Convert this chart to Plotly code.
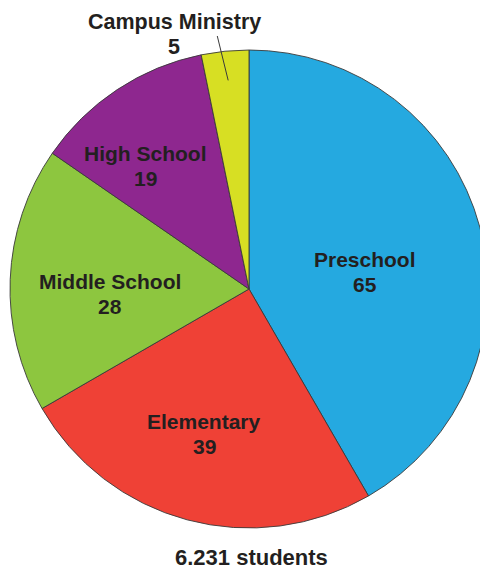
import math
import plotly.graph_objects as go

# ---- data ----
labels = ["Preschool", "Elementary", "Middle School", "High School", "Campus Ministry"]
values = [65, 39, 28, 19, 5]
total_label = "6.231 students"

# ---- style ----
colors = ["#25A9E0", "#EF4136", "#8DC63F", "#8E278F", "#D7DF23"]
text_color = "#231F20"
font_family = "Liberation Sans, Arial, sans-serif"
OFF = 8                      # browser body margin
W, H = 488 - OFF, 569 - OFF  # figure size so that it fits the window
# pie centre / radius in page pixels
pcx, pcy, R = 250, 289, 240
cx, cy = pcx - OFF, pcy - OFF
# label placement (fraction of radius, angle nudge in degrees) per slice
label_rfrac = [0.486, 0.635, 0.585, 0.675, 1.108]
label_shift = [6.7, 2.5, -4.3, -6.9, -10.8]
label_size = [21, 21, 21, 21, 21.5]
line_gap = 25  # px between name and value lines

fig = go.Figure(go.Pie(
    labels=labels,
    values=values,
    sort=False,
    direction="clockwise",
    rotation=0,
    textinfo="none",
    hoverinfo="label+value",
    marker=dict(colors=colors, line=dict(color="#3a3a3a", width=0.9)),
    domain=dict(x=[max(0.0, (cx - R) / W), min(1.0, (cx + R) / W)],
                y=[1 - (cy + R) / H, 1 - (cy - R) / H]),
    showlegend=False,
))


def polar(angle_deg, rfrac):
    a = math.radians(angle_deg)
    return cx + rfrac * R * math.sin(a), cy - rfrac * R * math.cos(a)


def add_text(px, py, txt, size):
    fig.add_annotation(
        x=px / W, y=1 - py / H, xref="paper", yref="paper",
        text=f"<b>{txt}</b>", showarrow=False,
        xanchor="center", yanchor="middle",
        font=dict(family=font_family, size=size, color=text_color),
    )


tot = sum(values)
cum = 0
for i, (lab, v) in enumerate(zip(labels, values)):
    mid = (cum + v / 2) / tot * 360
    cum += v
    px, py = polar(mid + label_shift[i], label_rfrac[i])
    add_text(px, py - line_gap / 2, lab, label_size[i])
    add_text(px, py + line_gap / 2, str(v), label_size[i])
    if label_rfrac[i] > 1:
        # leader line from outside label into the slice
        x0, y0 = polar(mid - 1.6, 1.063)
        x1, y1 = polar(mid - 0.2, 0.874)
        fig.add_shape(type="line", xref="paper", yref="paper",
                      x0=x0 / W, y0=1 - y0 / H, x1=x1 / W, y1=1 - y1 / H,
                      line=dict(color="#3a3a3a", width=1))

add_text(251 - OFF, 557 - OFF, total_label, 22)

fig.update_layout(
    width=W, height=H,
    margin=dict(l=0, r=0, t=0, b=0),
    paper_bgcolor="white",
    plot_bgcolor="white",
)

fig.write_html("out.html")
